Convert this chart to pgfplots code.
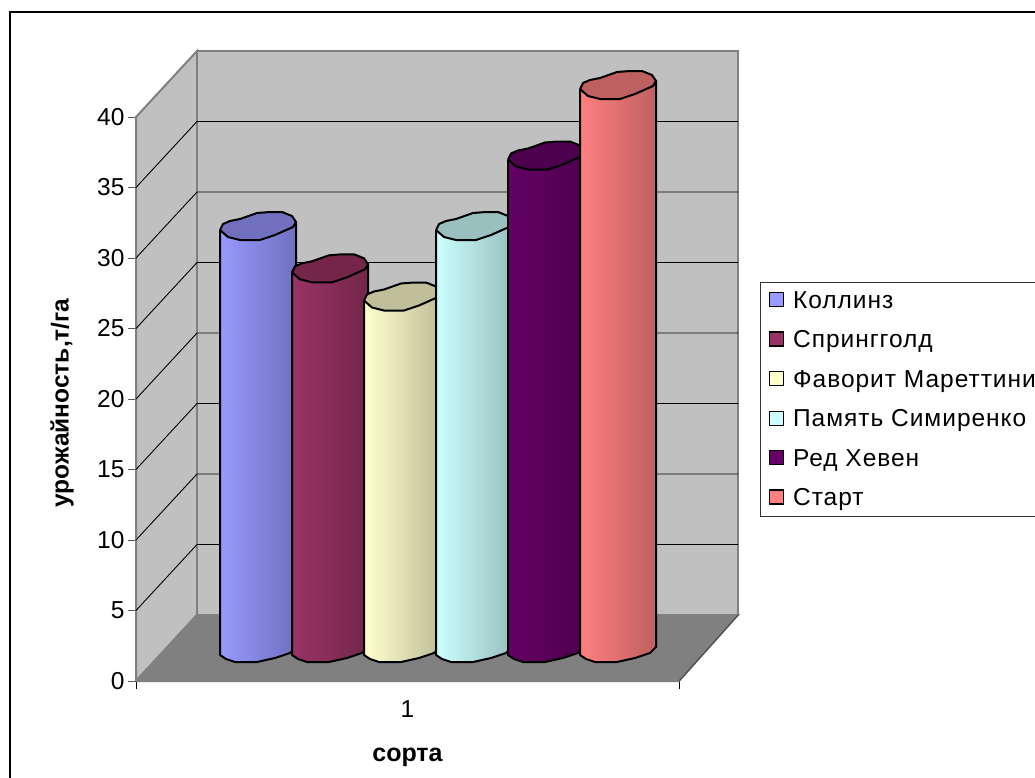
\documentclass[border=0pt]{standalone}
\usepackage{pgfplots}
\usepackage{pgfplotstable}
\usepackage{fontspec}
\setmainfont{Liberation Sans}
\newfontfamily\legendfont[LetterSpace=4]{Liberation Sans}
\pgfplotsset{compat=1.18}

\definecolor{wall}{HTML}{C0C0C0}
\definecolor{edge}{HTML}{808080}
\definecolor{floorc}{HTML}{808080}
\definecolor{lightA}{HTML}{9999FF}\definecolor{darkA}{HTML}{7070BF}
\definecolor{lightB}{HTML}{993366}\definecolor{darkB}{HTML}{732649}
\definecolor{lightC}{HTML}{FFFFCC}\definecolor{darkC}{HTML}{BFBF99}
\definecolor{lightD}{HTML}{CCFFFF}\definecolor{darkD}{HTML}{99BFBF}
\definecolor{lightE}{HTML}{660066}\definecolor{darkE}{HTML}{4D004D}
\definecolor{lightF}{HTML}{FF8080}\definecolor{darkF}{HTML}{BF6060}

% outline of a cylinder, dx and dy in pixels, t=1 rides on the value
\pgfplotstableread{
dx t dy
0  1 0
76 1 8
76 0 6
70 0 0
55 0 -5
37 0 -9
15 0 -9
6  0 -6
0  0 -2
0  1 0
}\cylbody
\pgfplotstableread{
dx dy
0  0
3  6
10 9
20 11
37 17
50 18
62 18
72 14
76 8
73 3
55 -5
40 -10
20 -10
8  -7
0  0
}\cylcap

% left edge, value, light colour, dark colour
\newcommand\cylinder[4]{
  \addplot[forget plot, draw=black, line width=2pt, line join=round, left color=#3, middle color=#3!72!#4, right color=#4]
    table[x expr=\thisrow{dx}+#1, y expr=\thisrow{t}*#2+1.986+\thisrow{dy}/14.1] {\cylbody};
  \addplot[forget plot, draw=black, line width=2pt, line join=round, fill=#4]
    table[x expr=\thisrow{dx}+#1, y expr=#2+1.986+\thisrow{dy}/14.1] {\cylcap};
}

\begin{document}
\begin{tikzpicture}
  \path[use as bounding box] (0,0) rectangle (1035pt,-778pt);
  \draw[line width=2pt] (10pt,-778pt) -- (10pt,-12pt) -- (1035pt,-12pt);
  \begin{axis}[
      at={(136pt,-681pt)},
      anchor=south west,
      scale only axis,
      width=543pt,
      height=564pt,
      xmin=0, xmax=543,
      ymin=0, ymax=40,
      clip=false,
      axis lines=left,
      axis line style={-},
      y axis line style={color=black!65},
      tick align=outside,
      major tick length=8pt,
      ytick distance=5,
      ytick style={color=black!65},
      xtick={0,543},
      xticklabels={,,},
      xtick style={color=black},
      extra x ticks={271.5},
      extra x tick labels={1},
      extra x tick style={major tick length=0pt, tick label style={yshift=-16pt}},
      tick label style={font=\fontsize{24.5}{28}\selectfont},
      /pgf/number format/assume math mode=true,
      xlabel={сорта},
      ylabel={урожайность,т/га},
      xlabel style={at={(axis description cs:0.5,-0.135)}, anchor=center, font=\fontsize{25}{29}\selectfont\bfseries},
      ylabel style={at={(axis description cs:-0.136,0.493)}, anchor=center, font=\fontsize{24.5}{28}\selectfont\bfseries},
      legend style={
        at={(axis description cs:1.149,0.7074)}, anchor=north west,
        draw=black!80, line width=0.8pt,
        font=\fontsize{24.5}{28}\selectfont\legendfont,
        row sep=17pt,
        inner xsep=6pt, inner ysep=7pt,
      },
      legend cell align=left,
      legend image code/.code={
        \path (0pt,0pt) (24pt,0pt);
        \draw[#1, line width=1.3pt] (3pt,-6pt) rectangle (17pt,8pt);
      },
    ]
    % walls and floor
    \addplot[forget plot, fill=wall, draw=edge, line width=2pt] coordinates {(0,0)(61,4.68)(61,44.68)(0,40)(0,0)};
    \addplot[forget plot, fill=wall, draw=edge, line width=2pt] coordinates {(61,4.68)(602,4.68)(602,44.68)(61,44.68)(61,4.68)};
    \addplot[forget plot, fill=floorc, draw=edge, line width=2pt] coordinates {(0,0)(61,4.68)(602,4.68)(543,0)(0,0)};
    \addplot[forget plot, draw=black!70, line width=1pt] coordinates {(543,0)(602,4.68)};
    % grid lines
    \addplot[forget plot, black, line width=0.9pt] coordinates {(0,5)(61,9.68)(602,9.68)};
    \addplot[forget plot, black, line width=0.9pt] coordinates {(0,10)(61,14.68)(602,14.68)};
    \addplot[forget plot, black, line width=0.9pt] coordinates {(0,15)(61,19.68)(602,19.68)};
    \addplot[forget plot, black, line width=0.9pt] coordinates {(0,20)(61,24.68)(602,24.68)};
    \addplot[forget plot, black, line width=0.9pt] coordinates {(0,25)(61,29.68)(602,29.68)};
    \addplot[forget plot, black, line width=0.9pt] coordinates {(0,30)(61,34.68)(602,34.68)};
    \addplot[forget plot, black, line width=0.9pt] coordinates {(0,35)(61,39.68)(602,39.68)};
    % cylinders
    \cylinder{84}{30}{lightA}{darkA}
    \cylinder{156}{27}{lightB}{darkB}
    \cylinder{228}{25}{lightC}{darkC}
    \cylinder{300}{30}{lightD}{darkD}
    \cylinder{372}{35}{lightE}{darkE}
    \cylinder{444}{40}{lightF}{darkF}
    % legend
    \addlegendimage{fill=lightA}
    \addlegendentry{Коллинз}
    \addlegendimage{fill=lightB}
    \addlegendentry{Спрингголд}
    \addlegendimage{fill=lightC}
    \addlegendentry{Фаворит Мареттини}
    \addlegendimage{fill=lightD}
    \addlegendentry{Память Симиренко}
    \addlegendimage{fill=lightE}
    \addlegendentry{Ред Хевен}
    \addlegendimage{fill=lightF}
    \addlegendentry{Старт}
  \end{axis}
\end{tikzpicture}
\end{document}
